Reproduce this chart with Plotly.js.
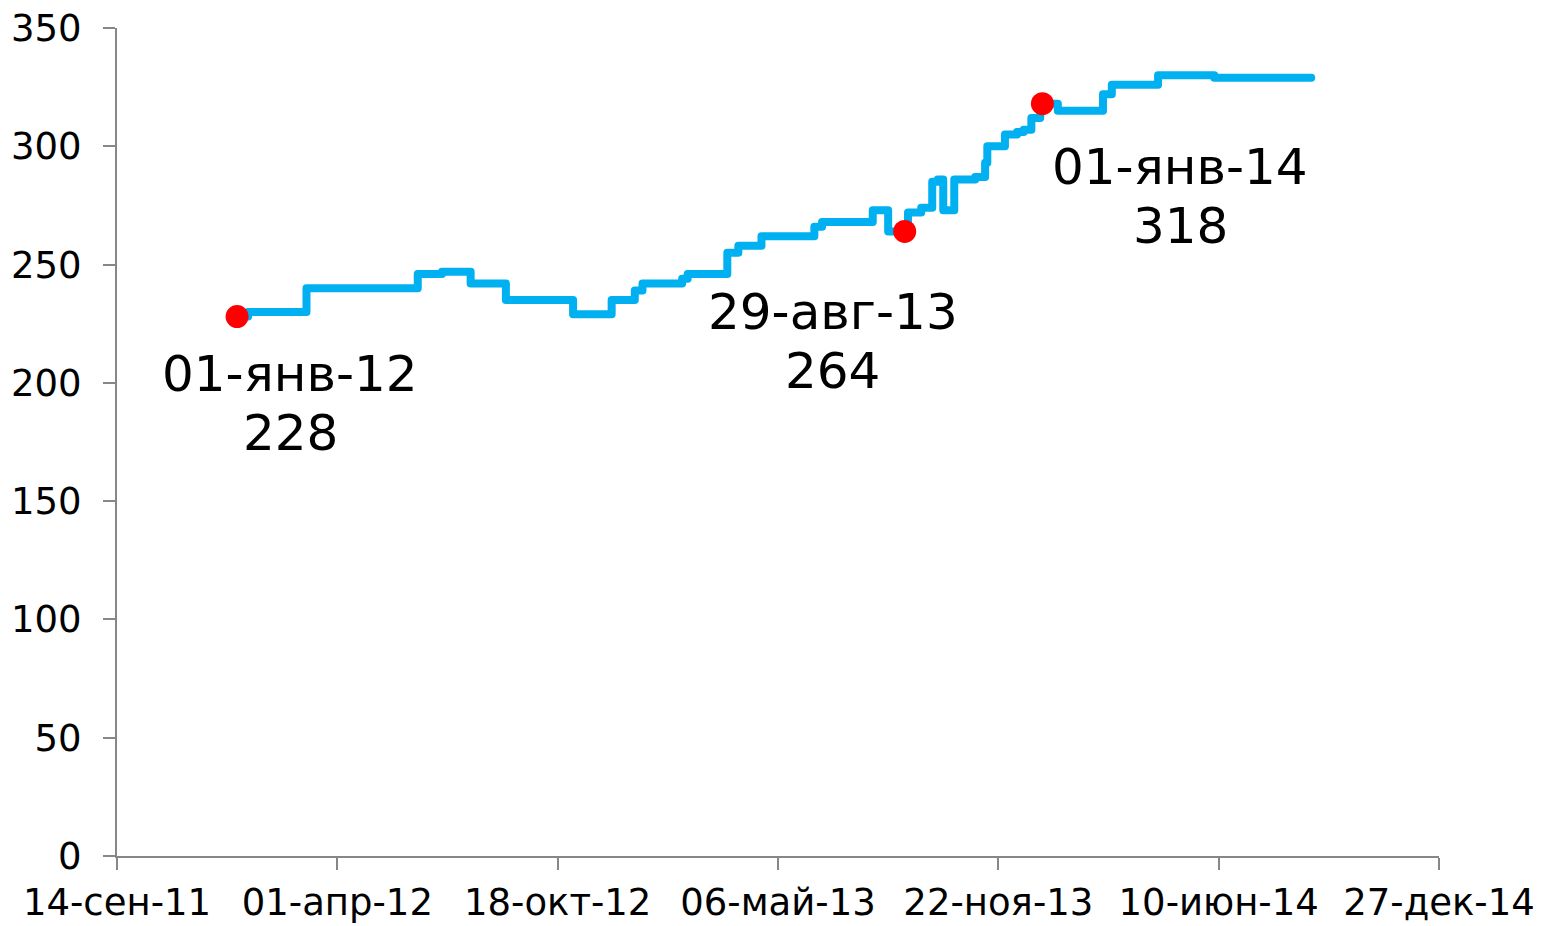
<!DOCTYPE html>
<html>
<head>
<meta charset="utf-8">
<script src="https://cdn.plot.ly/plotly-3.0.1.min.js"></script>
<style>
html,body{margin:0;padding:0;background:#fff;}
#chart{width:1542px;height:926px;}
#chart .js-line{stroke-linejoin:round !important;stroke-linecap:round !important;}
</style>
</head>
<body>
<div id="chart"></div>
<script>
// Step series (date, value)
const dates = [
  "2012-01-06","2012-01-11","2012-03-04","2012-06-13","2012-07-05","2012-07-31",
  "2012-09-01","2012-11-01","2012-12-06","2012-12-27","2013-01-03","2013-02-08",
  "2013-02-13","2013-03-21","2013-03-31","2013-04-21","2013-06-08","2013-06-15",
  "2013-07-31","2013-08-14","2013-09-01","2013-09-13","2013-09-23","2013-09-28",
  "2013-10-03","2013-10-13","2013-11-01","2013-11-10","2013-11-12","2013-11-28",
  "2013-12-09","2013-12-15","2013-12-22","2013-12-30","2014-01-15","2014-02-25",
  "2014-03-05","2014-04-16","2014-06-06","2014-09-02"
];
const values = [
  228,230,240,246,247,242,
  235,229,235,239,242,244,
  246,255,258,262,266,268,
  273,264,272,274,285,286,
  273,286,287,293,300,305,
  306,307,312,318,315,322,
  326,330,329,329
];

// Highlighted points
const markDates = ["2012-01-01","2013-08-29","2014-01-01"];
const markValues = [228,264,318];
const markDateLabels = ["01-янв-12","29-авг-13","01-янв-14"];
const markValueLabels = ["228","264","318"];

// Axis ticks
const xTickVals = ["2011-09-14","2012-04-01","2012-10-18","2013-05-06","2013-11-22","2014-06-10","2014-12-27"];
const xTickText = ["14-сен-11","01-апр-12","18-окт-12","06-май-13","22-ноя-13","10-июн-14","27-дек-14"];
const yTickVals = [0,50,100,150,200,250,300,350];

// label offsets in pixels: [xshift, yshift line 1, yshift line 2]
const labelShifts = [[53,-57,-116],[-72,-81,-140],[138,-63,-122]];

const FONT = "DejaVu Sans, Verdana, sans-serif";

const traces = [
  {
    x: dates, y: values, type: "scatter", mode: "lines",
    line: {color: "#00B0F0", width: 8, shape: "hv"},
    hoverinfo: "skip"
  },
  {
    x: markDates, y: markValues, type: "scatter", mode: "markers",
    marker: {color: "#FF0000", size: 23},
    hoverinfo: "skip"
  }
];

const annotations = [];
markDates.forEach((d, i) => {
  [markDateLabels[i], markValueLabels[i]].forEach((t, j) => {
    annotations.push({
      x: d, y: markValues[i], xref: "x", yref: "y",
      text: t, showarrow: false,
      xanchor: "center", yanchor: "middle",
      xshift: labelShifts[i][0], yshift: labelShifts[i][1 + j],
      font: {family: FONT, size: 50, color: "#000"}
    });
  });
});

const layout = {
  width: 1542, height: 926,
  margin: {l: 117, r: 103, t: 28, b: 70},
  paper_bgcolor: "#fff", plot_bgcolor: "#fff",
  showlegend: false,
  font: {family: FONT, size: 37, color: "#000"},
  xaxis: {
    type: "date",
    range: ["2011-09-14","2014-12-27"],
    tickmode: "array", tickvals: xTickVals, ticktext: xTickText,
    showgrid: false, zeroline: false,
    showline: true, linecolor: "#878787", linewidth: 2,
    ticks: "outside", ticklen: 12, tickwidth: 2, tickcolor: "#878787",
    tickfont: {size: 37, color: "#000"},
    ticklabelstandoff: 1
  },
  yaxis: {
    range: [0, 350],
    tickmode: "array", tickvals: yTickVals,
    showgrid: false, zeroline: false,
    showline: true, linecolor: "#878787", linewidth: 2,
    ticks: "outside", ticklen: 12, tickwidth: 2, tickcolor: "#878787",
    tickfont: {size: 37, color: "#000"},
    ticklabelstandoff: 14
  },
  annotations: annotations
};

Plotly.newPlot("chart", traces, layout, {displayModeBar: false, staticPlot: true});
</script>
</body>
</html>
